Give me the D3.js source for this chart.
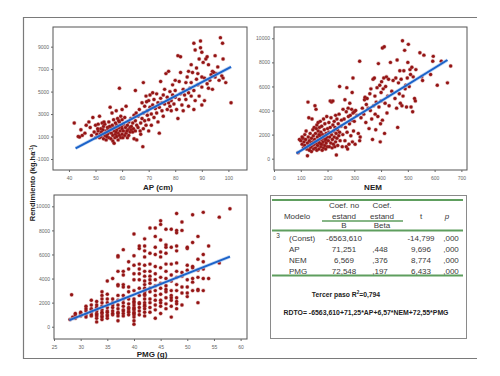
<!DOCTYPE html>
<html>
<head>
<meta charset="utf-8">
<script src="https://cdn.jsdelivr.net/npm/d3@7"></script>
<style>
  body { margin: 0; background: #fff; }
  svg { display: block; font-family: "Liberation Sans", Arial, sans-serif; }
</style>
</head>
<body>
<svg id="chart" width="500" height="376"></svg>
<script>
// ---- data ----
const apPoints = [
  [42,2200],[43.5,1000],[44,950],[44.5,1600],[45,1100],[46,1300],[46.5,2000],[47.5,2300],[48,1800],[48.5,1100],[49,2700],[49.5,1400],[50,2000],[50,900],
  [50.5,1200],[51,1500],[51,2100],[51.5,900],[52,1000],[52,1700],[52.5,2200],[52.5,1300],[53,800],[53,1900],[53.5,1100],[53.5,2100],[54,1500],[54,700],[54.5,1200],[54.5,1800],
  [55,900],[55,2300],[55,1400],[55.5,3600],[51.5,2800],[52.8,1600],[53.7,1300],[54.2,1000],[50.8,1700],[51.8,1200],[52.2,1400],[53.2,2300],[54.8,1600],[55.3,1900],
  [55.8,800],[56,1300],[56,1700],[56.3,2000],[56.5,600],[56.5,1100],[56.8,2500],[57,1500],[57,400],[57,1800],[57.3,900],[57.5,2200],[57.5,1200],[57.8,3300],[58,1000],
  [58,1600],[58,2000],[58.3,2600],[58.5,1300],[58.5,700],[58.8,1800],[59,5300],[59,1100],[59,2300],[59.3,1500],[59.5,900],[59.5,2800],[59.8,1900],[60,1200],[60,3400],
  [60,1700],[60,2500],[56.2,3100],[57.7,1400],[58.7,2400],
  [60.3,900],[60.5,2100],[60.5,1500],[61,1100],[61,2700],[61.3,1800],[61.5,3700],[61.5,1300],[62,2000],[62,900],[62.3,1600],[62.5,2300],[62.5,1100],[63,1800],[63,1400],
  [63.3,2600],[63.5,1600],[63.5,1900],[64,1400],[64,2200],[64.3,1700],[64.5,800],[64.5,2900],[65,5100],[65,1500],[65,2400],[65.3,3100],[65.5,700],[65.5,2000],[61.8,1500],
  [66,1800],[66,2800],[66.5,3400],[67,2200],[67,1200],[67.5,4000],[67.5,2600],[67.8,100],[68,3100],[68,1700],[68,5800],[68.5,2400],[68.5,3700],[69,4600],[69,2000],
  [69.5,3300],[69.5,2900],[70,1500],[70,4200],[70,2500],[70.5,3600],[70.5,4700],[71,3000],[71,2000],[71.5,4900],[71.5,3800],[72,2700],[72,4300],[66.8,1500],[69.2,4100],
  [72.5,3500],[73,4800],[73,3100],[73.5,4000],[73.5,2300],[74,1300],[74,3600],[74.5,4400],[74.5,5900],[75,3300],[75,4000],[75.5,2800],[75.5,4700],[76,3900],[76,5200],
  [76.5,6600],[77,3400],[77,4500],[77.5,6800],[77.5,4000],[78,3700],[78,5000],[78.5,4200],[78.5,3300],[79,4700],[79,5600],[79.5,3900],[80,4500],[80,6000],[80,5100],
  [80.5,3400],[81,2600],[81,8200],[81.5,4300],[81.5,5900],[82,8100],[82,6700],[82,4800],[82.5,3800],[83,5200],[83,3300],[83.5,4700],[84,5800],[84,4300],[84.5,6300],
  [85,4900],[85,3700],[85,6800],[85.5,5300],[86,4600],[86,7400],[86,5800],[86.5,6700],[87,3400],[87,9300],[87,5100],[87.5,8700],[87.5,4200],[88,6100],[88,7100],
  [88.5,5600],[88.5,6600],[89,4600],[89,7900],[89.5,9500],[89.5,8900],[90,8500],[90,6300],[90,5400],[90,3800],
  [90.5,7600],[91,6200],[91,4200],[91.5,7900],[92,8100],[92,5700],[92.5,5300],[92.5,7400],[93,6000],[93.5,6500],[94,5200],[94,6800],[94.5,6700],[95,8200],[95,6300],
  [95.5,6600],[96,7200],[96.5,6000],[97,9800],[97.5,6400],[97.8,9300],[98,7900],[98,6200],[99,5800],[101,4000]
];
const apFit = [[42.5,-50],[101,7200]];
const apXTicks = [40,50,60,70,80,90,100];
const apYTicks = [-1000,1000,3000,5000,7000,9000];

const nemPoints = [
  [90,500],[95,1600],[100,1500],[105,1200],[108,1700],[110,900],[112,1400],[115,1100],[118,1600],[120,2300],[122,800],[125,250],[125,1300],[127,4700],[128,1800],
  [130,1100],[130,3400],[132,1500],[135,900],[135,2100],[138,1300],[140,1700],[140,600],[142,3300],[143,1100],[145,2400],[145,1400],[147,1900],[148,800],[150,1200],
  [150,2600],[115,2000],[132,700],[138,1000],[105,1800],
  [152,1600],[153,4400],[155,900],[155,2100],[157,4100],[158,1300],[160,2800],[160,700],[162,1800],[163,1100],[165,3000],[165,2300],[167,1500],[168,800],[170,2600],
  [170,1300],[172,1900],[173,3100],[175,1000],[175,2200],[177,1600],[178,2700],[180,1200],[180,700],[182,2000],[183,1400],[185,3300],[185,900],[187,1700],[188,2400],
  [190,1100],[190,2900],[192,1500],[193,800],[195,2100],[195,1300],[197,3500],[198,1800],[200,1000],[200,2500],[158,2500],[168,2000],[176,1200],[186,1900],[194,1600],
  [203,1500],[205,2200],[205,3000],[207,1000],[208,1800],[210,2600],[210,4800],[212,1300],[213,3400],[215,2000],[215,4700],[217,900],[218,1600],[220,2800],[220,4800],
  [222,1200],[223,2300],[225,3100],[225,1800],[227,1000],[228,2600],[230,3600],[230,1400],[232,2100],[233,300],[235,3300],[235,1700],[237,2400],[238,1100],[240,2900],
  [242,1900],[243,3700],[245,6000],[245,2200],[247,1500],[250,2700],[252,3200],[255,1000],[257,2000],[258,4100],
  [262,3300],[265,1500],[265,4900],[267,2600],[270,1000],[270,3900],[272,5900],[273,2200],[275,800],[277,4200],[278,3500],[280,1200],[282,2900],[283,4600],[285,3600],
  [287,1900],[290,3200],[290,4100],[292,5500],[293,1400],[295,6700],[295,3800],[297,2300],[300,3900],[300,3100],[303,1200],[305,4000],[310,3600],[315,2100],[320,8100],
  [320,1500],[322,1800],[325,3400],[330,4200],[335,3700],[338,4900],[340,5100],[343,3000],[345,4500],[348,5000],
  [352,4200],[355,2500],[358,5400],[360,4000],[362,5800],[365,3300],[368,1600],[370,6600],[372,4400],[375,6700],[377,5200],[378,3700],[380,2400],[382,4700],[385,5900],
  [388,3500],[390,7900],[392,4300],[395,6100],[397,1400],[398,2900],[400,5500],[400,4800],[402,6400],[405,9200],[405,3200],[408,5800],[410,6700],[412,9300],[413,2100],
  [415,4600],[417,6000],[420,6800],[422,3800],[425,5200],[428,6600],[430,4400],[435,8000],[440,5600],[445,6500],
  [452,5000],[455,6700],[458,4200],[460,8200],[462,2600],[465,6300],[468,5400],[470,7300],[472,4600],[475,6600],[478,4400],[480,9800],[482,5200],[485,7300],[488,9000],
  [490,5800],[492,6100],[495,4300],[498,6700],[500,8000],[502,9500],[505,6000],[508,7400],[510,7000],[512,4300],[515,7600],[518,3900],[520,6800],[525,5000],[528,4800],
  [530,7400],[545,8800],[552,6800],[555,6500],[560,8600],[585,7000],[595,8500],[593,8100],[610,6100],[625,8100],[648,6300],[660,7700]
];
const nemFit = [[84,440],[648,8200]];
const nemXTicks = [0,100,200,300,400,500,600,700];
const nemYTicks = [0,2000,4000,6000,8000,10000];

const pmgPoints = [
  [28,600],[28.3,2650],[28.5,800],
  [29,800],[29,1000],[29,1100],[29,700],
  [30,900],[30,1100],[30,1000],[30,1200],
  [31,1000],[31,1300],[31,1700],[31,800],[31,1500],
  [32,900],[32,1200],[32,1500],[32,1800],[32,2200],[32,1000],[32,1400],
  [33,400],[33,700],[33,900],[33,1100],[33,1300],[33,1500],[33,1800],[33,2100],[33,1000],[33,1600],
  [34,600],[34,900],[34,1100],[34,1400],[34,1700],[34,2000],[34,2300],[34,2600],[34,2900],[34,1200],[34,800],
  [35,700],[35,1000],[35,1300],[35,1600],[35,2000],[35,2700],[35,3800],[35,1200],[35,900],[35,2300],
  [36,1000],[36,1300],[36,1600],[36,2000],[36,2300],[36,4000],[36,1800],[36,1100],
  [37,500],[37,900],[37,1200],[37,1500],[37,1800],[37,2200],[37,2600],[37,3400],[37,3500],[37,4600],[37,5800],[37,5900],[37,1100],
  [38,900],[38,1100],[38,1400],[38,1700],[38,2000],[38,2300],[38,2600],[38,3300],[38,3500],[38,4300],[38,4600],[38,6400],[38,1300],
  [39,1000],[39,1300],[39,1600],[39,1900],[39,2300],[39,2900],[39,3300],[39,4800],[39,5400],[39,1500],[39,1200],
  [40,200],[40,500],[40,800],[40,1000],[40,1200],[40,1400],[40,1600],[40,1800],[40,2000],[40,2300],[40,3000],[40,3900],[40,4400],[40,5100],[40,5900],[40,7700],
  [40,1100],[40,1500],[40,2100],
  [41,1000],[41,1300],[41,1600],[41,2000],[41,2600],[41,3200],[41,3900],[41,4400],[41,4800],[41,5200],[41,6500],[41,6700],[41,1900],
  [42,900],[42,1200],[42,1500],[42,1700],[42,2000],[42,2300],[42,2600],[42,2900],[42,3200],[42,3500],[42,3800],[42,4200],[42,4600],[42,5100],[42,5800],[42,6300],
  [42,6700],[42,7300],[42,1800],[42,2700],[42,3000],
  [43,1200],[43,1600],[43,2000],[43,2300],[43,2900],[43,3200],[43,3600],[43,4200],[43,4600],[43,5200],[43,6100],[43,8200],[43,3900],
  [44,700],[44,1400],[44,1800],[44,2200],[44,3000],[44,3400],[44,3900],[44,4400],[44,5000],[44,6000],[44,6600],[44,7500],[44,8200],[44,2600],
  [45,1100],[45,1700],[45,2200],[45,2700],[45,3200],[45,3600],[45,4100],[45,4900],[45,5800],[45,6200],[45,7200],[45,8500],[45,8800],[45,2000],
  [46,1500],[46,1900],[46,2400],[46,2900],[46,3400],[46,4000],[46,4600],[46,5200],[46,6100],[46,6600],[46,6800],[46,8100],[46,3100],
  [47,800],[47,1700],[47,2200],[47,2600],[47,3000],[47,3800],[47,4300],[47,5200],[47,6600],[47,8100],[47,2400],
  [48,1500],[48,1900],[48,2400],[48,3000],[48,3500],[48,4100],[48,4600],[48,5300],[48,6300],[48,6700],[48,7800],[48,8000],[48,9400],[48,2100],
  [49,1800],[49,2800],[49,4200],[49,4500],[49,8000],[49,8700],[49,3300],
  [50,2500],[50,3300],[50,3900],[50,4700],[50,5100],[50,6500],[50,6600],[50,2800],
  [51,3000],[51,3700],[51,4000],[51,4900],[51,5000],[51,7000],[51,9300],
  [52,2000],[52,3000],[52,4100],[52,4700],[52,5600],[52,7500],[52,3100],
  [53,3000],[53,4000],[53,4800],[53,5400],[53,6000],[53,9500],
  [54,4000],[54,6700],
  [56,5300],[56,9100],
  [58,9800]
];
const pmgFit = [[27.9,550],[58,5820]];
const pmgXTicks = [25,30,35,40,45,50,55,60];
const pmgYTicks = [0,2000,4000,6000,8000,10000];

const tableHead = ['Modelo', 'Coef. no', 'estand', 'B', 'Coef.', 'estand', 'Beta', 't', 'p'];
const tableModel = '3';
const tableRows = [
  ['(Const)', '-6563,610', '', '-14,799', ',000'],
  ['AP', '71,251', ',448', '9,696', ',000'],
  ['NEM', '6,569', ',376', '8,774', ',000'],
  ['PMG', '72,548', ',197', '6,433', ',000']
];
const r2Text = ['Tercer paso R', '2', '=0,794'];
const eqText = 'RDTO= -6563,610+71,25*AP+6,57*NEM+72,55*PMG';

// ---- drawing ----
const svg = d3.select('#chart');
const TXT = '#3a3a3a';
const GREEN = '#5e9e5e';
const DOT = '#921313';
const BLUE = '#1b63c9';

// outer frame (left, top, bottom)
svg.append('path')
  .attr('d', 'M477,17.5H23.5V358.5H477')
  .attr('fill', 'none').attr('stroke', '#7a7a7a').attr('stroke-width', 1.2);

function drawPanel(cfg) {
  const g = svg.append('g');
  const x = d3.scaleLinear().domain(cfg.xDomain).range([cfg.left, cfg.right]);
  const y = d3.scaleLinear().domain(cfg.yDomain).range([cfg.bottom, cfg.top]);

  g.append('rect')
    .attr('x', cfg.left).attr('y', cfg.top)
    .attr('width', cfg.right - cfg.left).attr('height', cfg.bottom - cfg.top)
    .attr('fill', '#fff').attr('stroke', '#555').attr('stroke-width', 1);

  const xa = g.append('g')
    .attr('transform', `translate(0,${cfg.bottom})`)
    .call(d3.axisBottom(x).tickValues(cfg.xTicks).tickFormat(d => d).tickSize(2).tickPadding(4));
  const ya = g.append('g')
    .attr('transform', `translate(${cfg.left},0)`)
    .call(d3.axisLeft(y).tickValues(cfg.yTicks).tickFormat(d => d).tickSize(2).tickPadding(2));
  [xa, ya].forEach(a => {
    a.select('.domain').remove();
    a.selectAll('line').attr('stroke', '#666');
    a.selectAll('text').style('font-size', '5px').style('fill', '#666');
  });

  // points
  g.append('g').selectAll('circle')
    .data(cfg.points)
    .join('circle')
    .attr('cx', d => x(d[0])).attr('cy', d => y(d[1]))
    .attr('r', 1.7)
    .attr('fill', DOT)
    .attr('stroke', 'rgba(180,70,70,0.3)').attr('stroke-width', 1.1);

  // fit line
  const line = d3.line().x(d => x(d[0])).y(d => y(d[1]));
  g.append('path').datum(cfg.fit).attr('d', line)
    .attr('stroke', '#a9c6ef').attr('stroke-width', 3.4).attr('fill', 'none').attr('opacity', 0.7);
  g.append('path').datum(cfg.fit).attr('d', line)
    .attr('stroke', BLUE).attr('stroke-width', 2).attr('fill', 'none');

  g.append('text')
    .attr('x', cfg.titleX).attr('y', cfg.titleY)
    .attr('text-anchor', 'middle')
    .style('font-size', '8px').style('font-weight', 'bold').style('fill', '#222')
    .text(cfg.title);
}

drawPanel({ points: apPoints, fit: apFit, xTicks: apXTicks, yTicks: apYTicks,
  xDomain: [34, 107], yDomain: [-1980, 10750], left: 53, right: 247, top: 27, bottom: 170,
  title: 'AP (cm)', titleX: 158, titleY: 190 });
drawPanel({ points: nemPoints, fit: nemFit, xTicks: nemXTicks, yTicks: nemYTicks,
  xDomain: [0, 721], yDomain: [-940, 10940], left: 274, right: 467, top: 27, bottom: 170,
  title: 'NEM', titleX: 373, titleY: 190 });
drawPanel({ points: pmgPoints, fit: pmgFit, xTicks: pmgXTicks, yTicks: pmgYTicks,
  xDomain: [25, 61.2], yDomain: [-1020, 10940], left: 54, right: 247, top: 195, bottom: 339,
  title: 'PMG (g)', titleX: 152, titleY: 357 });

// shared y title
const yt = svg.append('text')
  .attr('transform', 'translate(35,183) rotate(-90)')
  .attr('text-anchor', 'middle')
  .style('font-size', '7.5px').style('font-weight', 'bold').style('fill', '#222');
yt.append('tspan').text('Rendimiento (kg.ha');
yt.append('tspan').attr('dy', -2.5).style('font-size', '5px').text('-1');
yt.append('tspan').attr('dy', 2.5).text(')');

// ---- coefficient table ----
const tg = svg.append('g').style('font-size', '8px').style('fill', TXT);
tg.append('rect').attr('x', 270.5).attr('y', 195.5).attr('width', 196).attr('height', 143)
  .attr('fill', '#fff').attr('stroke', '#8a8a8a').attr('stroke-width', 1);

const hline = (x1, x2, yy, w) => tg.append('line')
  .attr('x1', x1).attr('x2', x2).attr('y1', yy).attr('y2', yy)
  .attr('stroke', GREEN).attr('stroke-width', w);
hline(272, 463, 200, 2);
hline(322, 403, 221, 1.3);
hline(272, 463, 230.5, 2);
hline(272, 463, 275.5, 2);

const colX = { label: 289, b: 344, beta: 380, t: 421, p: 451 };
const headPos = [
  [297, 218.5], [344, 208.3], [344, 218.5], [344, 228.3], [382, 208.3], [382, 218.5], [382, 228.3], [421, 218.5], [447, 218.5]
];
tableHead.forEach((t, i) => {
  tg.append('text').attr('x', headPos[i][0]).attr('y', headPos[i][1])
    .attr('text-anchor', 'middle')
    .style('font-style', t === 'p' ? 'italic' : 'normal')
    .text(t);
});

tg.append('text').attr('x', 278).attr('y', 238).attr('text-anchor', 'middle')
  .style('font-size', '6.5px').text(tableModel);

const rowY = [241, 252, 262.8, 273.5];
tableRows.forEach((r, i) => {
  tg.append('text').attr('x', colX.label).attr('y', rowY[i]).text(r[0]);
  [['b', 1], ['beta', 2], ['t', 3], ['p', 4]].forEach(([k, j]) => {
    tg.append('text').attr('x', colX[k]).attr('y', rowY[i]).attr('text-anchor', 'middle').text(r[j]);
  });
});

const r2 = tg.append('text').attr('x', 346).attr('y', 296.5).attr('text-anchor', 'middle')
  .style('font-size', '6.8px').style('font-weight', 'bold').style('fill', '#222');
r2.append('tspan').text(r2Text[0]);
r2.append('tspan').attr('dy', -2.5).style('font-size', '4.5px').text(r2Text[1]);
r2.append('tspan').attr('dy', 2.5).text(r2Text[2]);

tg.append('text').attr('x', 366).attr('y', 314.5).attr('text-anchor', 'middle')
  .style('font-size', '6.9px').style('font-weight', 'bold').style('fill', '#222')
  .text(eqText);
</script>
</body>
</html>
